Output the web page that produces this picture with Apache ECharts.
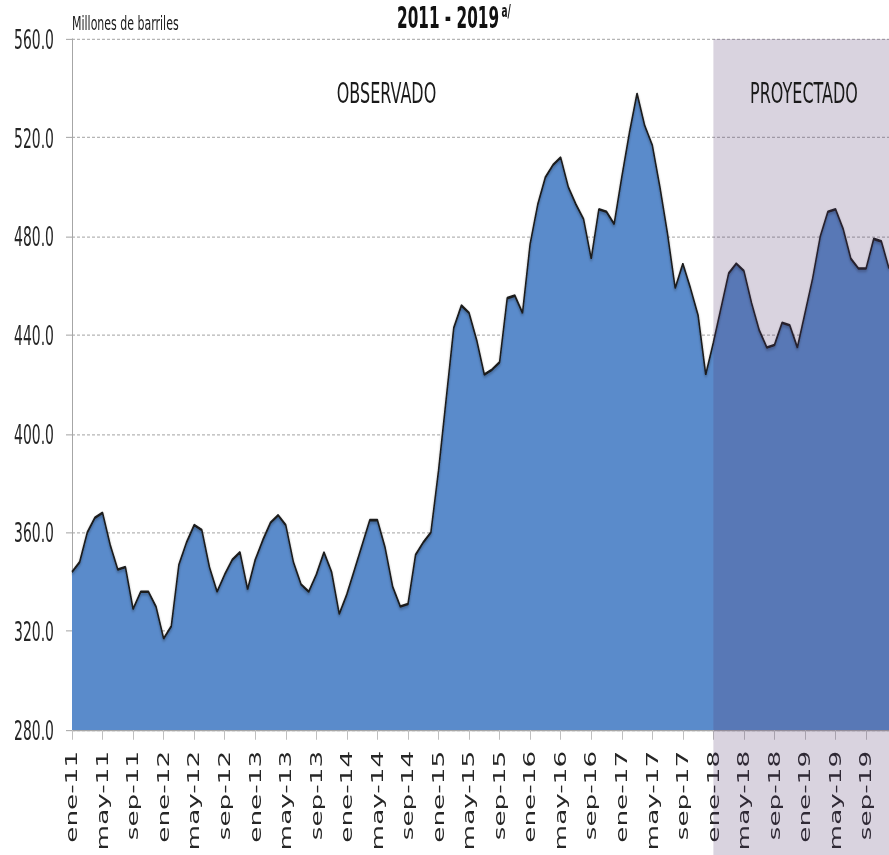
<!DOCTYPE html>
<html>
<head>
<meta charset="utf-8">
<script src="https://cdn.jsdelivr.net/npm/echarts@6/dist/echarts.min.js"></script>
<style>
  html, body { margin: 0; padding: 0; background: #fff; overflow: hidden; }
  #wrap { width: 889px; height: 855px; overflow: hidden; }
  /* the reference is a vertically stretched picture, so the chart is drawn flat and stretched */
  #chart { width: 889px; height: 489px; transform: scaleY(1.75); transform-origin: 0 0; }
</style>
</head>
<body>
<div id="wrap"><div id="chart"></div></div>
<script>
const meses = ['ene', 'feb', 'mar', 'abr', 'may', 'jun', 'jul', 'ago', 'sep', 'oct', 'nov', 'dic']
const anios = ['11', '12', '13', '14', '15', '16', '17', '18', '19']

// Millones de barriles, ene-11 .. dic-17
const observado = [
  344, 348, 360, 366, 368, 355, 345, 346, 329, 336, 336, 330,
  317, 322, 347, 356, 363, 361, 346, 336, 343, 349, 352, 337,
  349, 357, 364, 367, 363, 348, 339, 336, 343, 352, 344, 327,
  335, 345, 355, 365, 365, 354, 338, 330, 331, 351, 356, 360,
  385, 414, 443, 452, 449, 438, 424, 426, 429, 455, 456, 449,
  477, 493, 504, 509, 512, 500, 493, 487, 471, 491, 490, 485,
  504, 522, 538, 525, 517, 500, 481, 459, 469, 459, 448, 424
]
// ene-18 .. dic-19
const proyectado = [
  437, 451, 465, 469, 466, 453, 442, 435, 436, 445, 444, 435,
  449, 463, 480, 490, 491, 483, 471, 467, 467, 479, 478, 467
]

const yMin = 280
const yMax = 560
const yStep = 40

const categorias = []
anios.forEach(a => {
  meses.forEach(m => categorias.push(m + '-' + a))
})
const valores = observado.concat(proyectado)

const chart = echarts.init(document.getElementById('chart'), null, { renderer: 'svg' })

const gridTop = 22.3
const option = {
  animation: false,
  grid: { left: 72, top: gridTop, width: 820, height: 396 },
  xAxis: {
    type: 'category',
    data: categorias,
    boundaryGap: false,
    axisLine: { lineStyle: { color: '#a6a6a6', width: 0.6 } },
    axisTick: { interval: 3, length: 5.7, lineStyle: { color: '#bfbfbf', width: 1 } },
    axisLabel: {
      interval: 3,
      rotate: 90,
      margin: 12,
      color: '#262626',
      fontSize: 15,
      fontFamily: 'DejaVu Sans'
    },
    splitLine: { show: false }
  },
  yAxis: {
    type: 'value',
    min: yMin,
    max: yMax,
    interval: yStep,
    axisLine: { show: true, lineStyle: { color: '#a6a6a6', width: 1 } },
    axisTick: { show: true, length: 6, lineStyle: { color: '#a6a6a6', width: 0.6 } },
    axisLabel: {
      formatter: v => v.toFixed(1),
      margin: 18,
      color: '#262626',
      fontSize: 15.5,
      fontFamily: 'DejaVu Sans Condensed, DejaVu Sans'
    },
    splitLine: { lineStyle: { color: '#b5b5b5', type: [3, 2], width: 0.6 } }
  },
  series: [{
    name: 'Existencias',
    type: 'line',
    data: valores,
    symbol: 'none',
    lineStyle: {
      color: '#1a1a1a',
      width: 1.5,
      shadowColor: 'rgba(0,0,0,0.35)',
      shadowBlur: 2,
      shadowOffsetY: 1
    },
    areaStyle: { color: '#5a8bcb', opacity: 1, origin: 'start' },
    z: 2
  }]
}
chart.setOption(option)

// shaded forecast zone, from ene-18 to the right edge
const x0 = chart.convertToPixel({ xAxisIndex: 0 }, 'ene-18')
chart.setOption({
  graphic: [
    {
      type: 'rect',
      silent: true,
      z: 100,
      shape: { x: x0, y: gridTop, width: 900 - x0, height: 489 - gridTop },
      style: { fill: 'rgba(81,55,111,0.22)' }
    },
    {
      type: 'text', z: 110, x: 72, y: 13.3,
      style: { text: 'Millones de barriles', font: '11px "DejaVu Sans"', fill: '#1a1a1a', align: 'left', verticalAlign: 'middle' }
    },
    {
      type: 'text', z: 110, x: 397, y: 10.2,
      style: { text: '2011 - 2019', font: 'bold 17px "DejaVu Sans Condensed", "DejaVu Sans"', fill: '#111', align: 'left', verticalAlign: 'middle' }
    },
    {
      type: 'text', z: 110, x: 501.5, y: 6.2,
      style: { text: 'a/', font: 'bold 10px "DejaVu Sans Condensed", "DejaVu Sans"', fill: '#111', align: 'left', verticalAlign: 'middle' }
    },
    {
      type: 'text', z: 110, x: 386.5, y: 53.1,
      style: { text: 'OBSERVADO', font: '16px "DejaVu Sans"', fill: '#1a1a1a', align: 'center', verticalAlign: 'middle' }
    },
    {
      type: 'text', z: 110, x: 804, y: 53.1,
      style: { text: 'PROYECTADO', font: '16px "DejaVu Sans"', fill: '#1a1a1a', align: 'center', verticalAlign: 'middle' }
    }
  ]
})
</script>
</body>
</html>
